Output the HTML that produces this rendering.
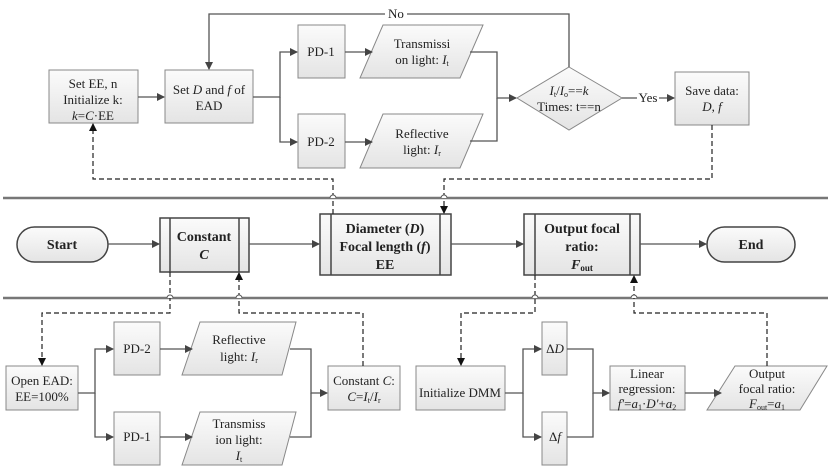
<!DOCTYPE html>
<html><head><meta charset="utf-8"><style>
html,body{margin:0;padding:0;background:#fff;}
svg{display:block;}
svg text{font-family:"Liberation Serif","DejaVu Serif",serif;font-size:13px;fill:#222;}
svg text.b{font-weight:bold;font-size:14px;}
</style></head><body>
<svg width="830" height="469" viewBox="0 0 830 469" xmlns="http://www.w3.org/2000/svg" font-family="Liberation Serif, serif">
<defs>
<linearGradient id="g" x1="0" y1="0" x2="0" y2="1"><stop offset="0" stop-color="#fbfbfb"/><stop offset="1" stop-color="#e4e4e4"/></linearGradient>
<marker id="a" markerWidth="8" markerHeight="8" refX="7" refY="4" orient="auto" markerUnits="userSpaceOnUse"><path d="M0,0 L8,4 L0,8 z" fill="#444"/></marker>
<marker id="d" markerWidth="8" markerHeight="8" refX="7" refY="4" orient="auto" markerUnits="userSpaceOnUse"><path d="M0,0 L8,4 L0,8 z" fill="#111"/></marker>
</defs>
<g stroke="#888" fill="url(#g)" stroke-width="1">
<rect x="49" y="70" width="89" height="53"/>
<rect x="165" y="70" width="88" height="53"/>
<rect x="298" y="25" width="47" height="53"/>
<rect x="298" y="114" width="47" height="54"/>
<polygon points="383,25 483,25 460,78 360,78"/>
<polygon points="383,114 483,114 460,168 360,168"/>
<polygon points="569,67 622,98 569,130 517,98"/>
<rect x="675" y="72" width="74" height="53"/>
<rect x="6" y="366" width="72" height="44"/>
<rect x="114" y="322" width="46" height="53"/>
<rect x="114" y="412" width="46" height="53"/>
<polygon points="200,322 296,322 282,375 182,375"/>
<polygon points="200,412 296,412 282,465 182,465"/>
<rect x="328" y="366" width="72" height="44"/>
<rect x="416" y="366" width="89" height="44"/>
<rect x="542" y="322" width="25" height="53"/>
<rect x="542" y="412" width="25" height="53"/>
<rect x="610" y="366" width="75" height="44"/>
<polygon points="735,366 827,366 800,410 707,410"/>
</g>
<g stroke="#444" fill="url(#g)" stroke-width="1.5">
<rect x="17" y="227" width="91" height="35" rx="17.5"/>
<rect x="707" y="227" width="88" height="35" rx="17.5"/>
<rect x="160" y="218" width="89" height="54"/>
<rect x="320" y="214" width="131" height="61"/>
<rect x="524" y="214" width="116" height="61"/>
<line x1="170" y1="218" x2="170" y2="272"/><line x1="239" y1="218" x2="239" y2="272"/>
<line x1="331" y1="214" x2="331" y2="275"/><line x1="440" y1="214" x2="440" y2="275"/>
<line x1="535" y1="214" x2="535" y2="275"/><line x1="630" y1="214" x2="630" y2="275"/>
</g>
<g stroke="#777" stroke-width="2.5" fill="none">
<line x1="3" y1="198" x2="828" y2="198"/>
<line x1="3" y1="298" x2="828" y2="298"/>
</g>
<g stroke="#555" stroke-width="1.3" fill="none" marker-end="url(#a)">
<path d="M138,97 H164"/>
<path d="M253,97 H280 V52 H297"/>
<path d="M280,97 V142 H297"/>
<path d="M345,52 H372"/>
<path d="M345,142 H372"/>
<path d="M470,52 H497 V98 H516"/>
<path d="M569,67 V14 H209 V69"/>
<path d="M622,98 H674"/>
<path d="M108,244 H159"/>
<path d="M249,244 H319"/>
<path d="M451,244 H523"/>
<path d="M640,244 H706"/>
<path d="M78,393 H95 V349 H113"/>
<path d="M95,393 V437 H113"/>
<path d="M160,349 H192"/>
<path d="M160,437 H192"/>
<path d="M290,349 H311 V393 H327"/>
<path d="M505,393 H523 V349 H541"/>
<path d="M523,393 V437 H541"/>
<path d="M567,349 H593 V393 H609"/>
<path d="M685,393 H721"/>
</g>
<g stroke="#555" stroke-width="1.3" fill="none">
<path d="M470,141 H497 V98"/>
<path d="M290,437 H311 V393"/>
<path d="M567,437 H593 V393"/>
</g>
<g stroke="#222" stroke-width="1.2" fill="none" stroke-dasharray="5,3" marker-end="url(#d)">
<path d="M333,214 V179 H93 V124"/>
<path d="M712,125 V179 H444 V213"/>
<path d="M170,272 V313 H42 V365"/>
<path d="M363,366 V313 H239 V273"/>
<path d="M535,275 V313 H461 V365"/>
<path d="M767,366 V313 H634 V276"/>
</g>
<g fill="#fff" stroke="#555" stroke-width="1">
<path d="M330,198 a3,3 0 0 1 6,0"/><path d="M441,198 a3,3 0 0 1 6,0"/>
<path d="M167,298 a3,3 0 0 1 6,0"/><path d="M236,298 a3,3 0 0 1 6,0"/>
<path d="M532,298 a3,3 0 0 1 6,0"/><path d="M631,298 a3,3 0 0 1 6,0"/>
</g>
<rect x="385" y="7" width="22" height="14" fill="#fff"/>
<text x="396" y="18" text-anchor="middle">No</text>
<rect x="637" y="91" width="22" height="14" fill="#fff"/>
<text x="648" y="102" text-anchor="middle">Yes</text>
<g text-anchor="middle">
<text x="93" y="88">Set EE, n</text>
<text x="93" y="104">Initialize k:</text>
<text x="93" y="120"><tspan font-style="italic">k</tspan>=<tspan font-style="italic">C</tspan>·EE</text>
<text x="209" y="94">Set <tspan font-style="italic">D</tspan> and <tspan font-style="italic">f</tspan> of</text>
<text x="209" y="110">EAD</text>
<text x="321" y="56">PD-1</text>
<text x="321" y="146">PD-2</text>
<text x="422" y="48">Transmissi</text>
<text x="422" y="64">on light: <tspan font-style="italic">I</tspan><tspan font-size="8" dy="2">t</tspan></text>
<text x="422" y="138">Reflective</text>
<text x="422" y="154">light: <tspan font-style="italic">I</tspan><tspan font-size="8" dy="2">r</tspan></text>
<text x="569" y="95"><tspan font-style="italic">I</tspan><tspan font-size="8" dy="2">t</tspan><tspan dy="-2">/</tspan><tspan font-style="italic">I</tspan><tspan font-size="8" dy="2">o</tspan><tspan dy="-2">==</tspan><tspan font-style="italic">k</tspan></text>
<text x="569" y="111">Times: t==n</text>
<text x="712" y="95">Save data:</text>
<text x="712" y="111"><tspan font-style="italic">D</tspan>, <tspan font-style="italic">f</tspan></text>
<text class="b" x="62" y="249">Start</text>
<text class="b" x="751" y="249">End</text>
<text class="b" x="204" y="241">Constant</text>
<text class="b" x="204" y="259" font-style="italic">C</text>
<text class="b" x="385" y="233">Diameter (<tspan font-style="italic">D</tspan>)</text>
<text class="b" x="385" y="251">Focal length (<tspan font-style="italic">f</tspan>)</text>
<text class="b" x="385" y="269">EE</text>
<text class="b" x="582" y="233">Output focal</text>
<text class="b" x="582" y="251">ratio:</text>
<text class="b" x="582" y="269"><tspan font-style="italic">F</tspan><tspan font-size="9" dy="2">out</tspan></text>
<text x="42" y="385">Open EAD:</text>
<text x="42" y="401">EE=100%</text>
<text x="137" y="353">PD-2</text>
<text x="137" y="441">PD-1</text>
<text x="239" y="344">Reflective</text>
<text x="239" y="361">light: <tspan font-style="italic">I</tspan><tspan font-size="8" dy="2">r</tspan></text>
<text x="239" y="428">Transmiss</text>
<text x="239" y="444">ion light:</text>
<text x="239" y="460"><tspan font-style="italic">I</tspan><tspan font-size="8" dy="2">t</tspan></text>
<text x="364" y="385">Constant <tspan font-style="italic">C</tspan>:</text>
<text x="364" y="401"><tspan font-style="italic">C</tspan>=<tspan font-style="italic">I</tspan><tspan font-size="8" dy="2">t</tspan><tspan dy="-2">/</tspan><tspan font-style="italic">I</tspan><tspan font-size="8" dy="2">r</tspan></text>
<text x="460" y="397">Initialize DMM</text>
<text x="555" y="353">Δ<tspan font-style="italic">D</tspan></text>
<text x="555" y="441">Δ<tspan font-style="italic">f</tspan></text>
<text x="647" y="378">Linear</text>
<text x="647" y="393">regression:</text>
<text x="647" y="408"><tspan font-style="italic">f'</tspan>=<tspan font-style="italic">a</tspan><tspan font-size="8" dy="2">1</tspan><tspan dy="-2">·</tspan><tspan font-style="italic">D'</tspan>+<tspan font-style="italic">a</tspan><tspan font-size="8" dy="2">2</tspan></text>
<text x="767" y="378">Output</text>
<text x="767" y="393">focal ratio:</text>
<text x="767" y="408"><tspan font-style="italic">F</tspan><tspan font-size="8" dy="2">out</tspan><tspan dy="-2">=</tspan><tspan font-style="italic">a</tspan><tspan font-size="8" dy="2">1</tspan></text>
</g>
</svg>
</body></html>
